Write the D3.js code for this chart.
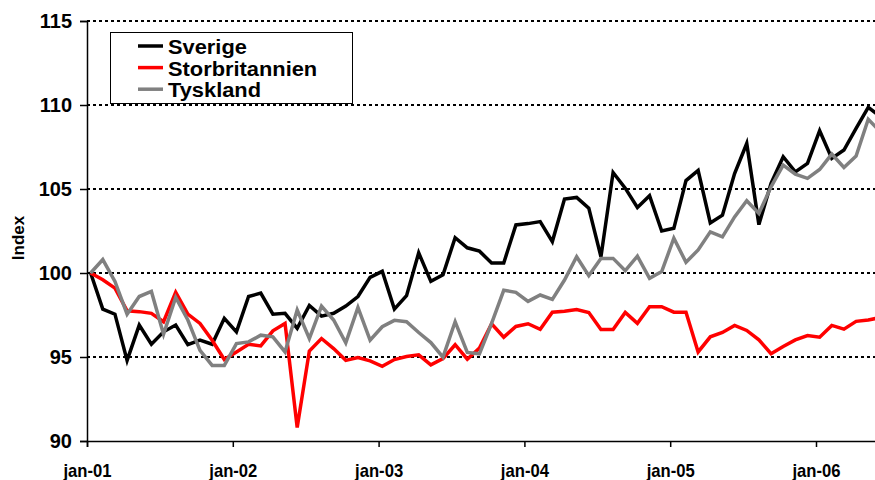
<!DOCTYPE html>
<html>
<head>
<meta charset="utf-8">
<script src="https://cdn.jsdelivr.net/npm/d3@7"></script>
<style>
  html, body { margin: 0; padding: 0; background: #fff; }
  svg { display: block; font-family: "Liberation Sans", Arial, sans-serif; font-weight: bold; }
</style>
</head>
<body>
<svg id="chart" width="875" height="480"></svg>
<script>
// monthly index, jan-01 = 100
const seriesNames = ["Sverige", "Storbritannien", "Tyskland"];
const seriesColors = ["#000000", "#ff0000", "#808080"];

const sverige = [100, 97.85, 97.55, 94.8, 96.9, 95.76, 96.5, 96.9, 95.74, 96.0, 95.76, 97.3,
  96.5, 98.6, 98.8, 97.55, 97.6, 96.7, 98.07, 97.43, 97.6, 98.03, 98.6, 99.74,
  100.1, 97.85, 98.65, 101.2, 99.5, 99.9, 102.1, 101.5, 101.3, 100.6, 100.6, 102.86,
  102.94, 103.06, 101.87, 104.4, 104.5, 103.86, 100.97, 105.98, 105.05, 103.9, 104.6, 102.5,
  102.66, 105.5, 106.1, 102.98, 103.44, 105.92, 107.71, 102.88, 105.33, 106.92, 106.02, 106.52,
  108.47, 106.82, 107.32, 108.61, 109.86, 109.3];

const storbritannien = [100, 99.6, 99.1, 97.75, 97.7, 97.6, 97.1, 98.85, 97.55, 97.0, 96.0, 94.85,
  95.3, 95.76, 95.66, 96.56, 97.0, 90.8, 95.36, 96.1, 95.5, 94.8, 94.97, 94.77,
  94.45, 94.85, 95.03, 95.13, 94.53, 94.9, 95.73, 94.87, 95.53, 96.98, 96.18, 96.82,
  96.98, 96.65, 97.67, 97.73, 97.83, 97.65, 96.64, 96.64, 97.65, 97.0, 97.99, 97.99,
  97.67, 97.67, 95.3, 96.2, 96.46, 96.88, 96.58, 96.02, 95.2, 95.63, 96.02, 96.28,
  96.18, 96.88, 96.66, 97.12, 97.2, 97.35];

const tyskland = [100, 100.8, 99.5, 97.55, 98.6, 98.9, 96.35, 98.55, 97.2, 95.4, 94.5, 94.5,
  95.8, 95.9, 96.3, 96.2, 95.3, 97.8, 96.1, 98.03, 97.2, 95.84, 97.95, 96.0,
  96.8, 97.18, 97.1, 96.46, 95.86, 94.99, 97.1, 95.27, 95.19, 97.0, 98.97, 98.85,
  98.31, 98.69, 98.43, 99.58, 100.97, 99.84, 100.87, 100.87, 100.14, 101.0, 99.68, 100.08,
  102.07, 100.64, 101.37, 102.45, 102.15, 103.34, 104.3, 103.54, 105.13, 106.42, 105.88, 105.63,
  106.16, 107.08, 106.28, 106.96, 109.15, 108.4];

const tickMonths = [0, 12, 24, 36, 48, 60];
const tickLabels = ["jan-01", "jan-02", "jan-03", "jan-04", "jan-05", "jan-06"];
const yTicks = [90, 95, 100, 105, 110, 115];

const allSeries = [sverige, storbritannien, tyskland];

const svg = d3.select("#chart");
const plotLeft = 87, plotTop = 21, plotBottom = 441;
const monthW = 12.15;

// months counted from start of jan-01; each value sits a little into its month
const x = d3.scaleLinear().domain([0, 66]).range([plotLeft, plotLeft + 66 * monthW]);
const y = d3.scaleLinear().domain([90, 115]).range([plotBottom, plotTop]);

// dotted gridlines
svg.append("g")
  .selectAll("line")
  .data(yTicks.filter(d => d > 90))
  .enter().append("line")
  .attr("x1", plotLeft).attr("x2", 875)
  .attr("y1", d => y(d)).attr("y2", d => y(d))
  .attr("stroke", "#000")
  .attr("stroke-width", 2)
  .attr("stroke-dasharray", "3,3");

// y axis
const yAxis = svg.append("g")
  .attr("transform", `translate(${plotLeft},0)`)
  .call(d3.axisLeft(y).tickValues(yTicks).tickSize(7).tickPadding(8));
yAxis.select(".domain").attr("stroke", "#000").attr("stroke-width", 1.5);
yAxis.selectAll(".tick line").attr("stroke", "#000").attr("stroke-width", 1.5);
yAxis.selectAll("text")
  .attr("font-family", "Liberation Sans, Arial, sans-serif")
  .attr("font-weight", "bold")
  .attr("font-size", 20)
  .attr("fill", "#000");

// x axis
const xAxis = svg.append("g")
  .attr("transform", `translate(0,${plotBottom})`)
  .call(d3.axisBottom(x).tickValues(tickMonths).tickFormat((d, i) => tickLabels[i]).tickSize(6).tickPadding(17));
xAxis.select(".domain").attr("stroke", "#000").attr("stroke-width", 1.5);
xAxis.selectAll(".tick line").attr("stroke", "#000").attr("stroke-width", 1.5);
xAxis.selectAll("text")
  .attr("font-family", "Liberation Sans, Arial, sans-serif")
  .attr("font-weight", "bold")
  .attr("font-size", 18.5)
  .attr("transform", "scale(0.9,1)")
  .attr("fill", "#000");

// y title
svg.append("text")
  .attr("transform", `translate(24,238) rotate(-90)`)
  .attr("text-anchor", "middle")
  .attr("font-size", 17)
  .text("Index");

// lines
const line = d3.line()
  .x((d, i) => x(i + 0.3))
  .y(d => y(d));

svg.append("g")
  .selectAll("path")
  .data(allSeries)
  .enter().append("path")
  .attr("d", d => line(d))
  .attr("fill", "none")
  .attr("stroke", (d, i) => seriesColors[i])
  .attr("stroke-width", 3.5)
  .attr("stroke-linejoin", "miter");

// legend
const legend = svg.append("g").attr("transform", "translate(110,32)");
legend.append("rect")
  .attr("x", 0.5).attr("y", 0.5)
  .attr("width", 242).attr("height", 71)
  .attr("fill", "#fff")
  .attr("stroke", "#000")
  .attr("stroke-width", 1);

const item = legend.selectAll(".item")
  .data(seriesNames)
  .enter().append("g")
  .attr("transform", (d, i) => `translate(0,${14 + i * 21.6})`);
item.append("line")
  .attr("x1", 28).attr("x2", 53)
  .attr("stroke", (d, i) => seriesColors[i])
  .attr("stroke-width", 3.5);
item.append("text")
  .attr("transform", "translate(58,8) scale(1.15,1.05)")
  .attr("font-size", 19)
  .text(d => d);
</script>
</body>
</html>
